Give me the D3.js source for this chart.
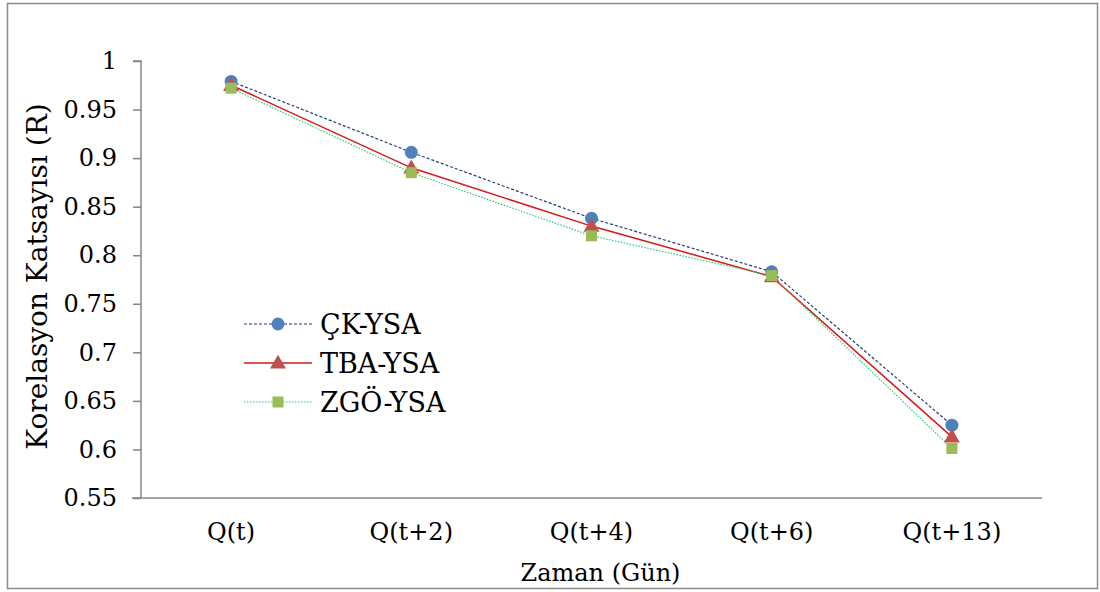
<!DOCTYPE html>
<html>
<head>
<meta charset="utf-8">
<script src="https://cdn.jsdelivr.net/npm/d3@7"></script>
<style>
  body { margin: 0; background: #fff; }
</style>
</head>
<body>
<div class="chart"></div>
<script>
var svgWidth = 1100;
var svgHeight = 592;
var serif = "'DejaVu Serif', 'Liberation Serif', serif";

// data
var categories = ["Q(t)", "Q(t+2)", "Q(t+4)", "Q(t+6)", "Q(t+13)"];
var ckYsa = [0.979, 0.906, 0.838, 0.783, 0.625];
var tbaYsa = [0.975, 0.890, 0.830, 0.778, 0.613];
var zgoYsa = [0.972, 0.885, 0.820, 0.779, 0.601];
var yTicks = [0.55, 0.6, 0.65, 0.7, 0.75, 0.8, 0.85, 0.9, 0.95, 1];

var seriesList = [
  { name: "ÇK-YSA", values: ckYsa, color: "#1f3d7a", dash: "3,2", width: 1.2, marker: "circle", fill: "#4f81bd" },
  { name: "TBA-YSA", values: tbaYsa, color: "#d7191c", dash: null, width: 1.5, marker: "triangle", fill: "#c0504d" },
  { name: "ZGÖ-YSA", values: zgoYsa, color: "#2ecc71", dash: "1.5,1.5", width: 1.2, marker: "square", fill: "#9bbb59" }
];

var margin = { left: 141, right: 58, top: 61, bottom: 94 };
var width = svgWidth - margin.left - margin.right;
var height = svgHeight - margin.top - margin.bottom;

var svg = d3.select(".chart")
  .append("svg")
  .attr("width", svgWidth)
  .attr("height", svgHeight);

// outer frame
svg.append("rect")
  .attr("x", 7.5).attr("y", 3.5)
  .attr("width", 1090).attr("height", 585)
  .attr("fill", "none")
  .attr("stroke", "#8c8c8c")
  .attr("stroke-width", 1.5);

var chartGroup = svg.append("g")
  .attr("transform", `translate(${margin.left}, ${margin.top})`);

var xScale = d3.scaleBand()
  .domain(categories)
  .range([0, width]);

var yScale = d3.scaleLinear()
  .domain([0.55, 1])
  .range([height, 0]);

// y axis
var leftAxis = d3.axisLeft(yScale)
  .tickValues(yTicks)
  .tickSize(8)
  .tickPadding(16)
  .tickFormat(d => d3.format("")(+d.toFixed(2)));

var yAxisG = chartGroup.append("g").call(leftAxis)
  .attr("font-family", serif).attr("font-size", 24);
yAxisG.select(".domain").attr("stroke", "#868686").attr("stroke-width", 1.5)
  .attr("d", `M-8,0H0V${height}`);
yAxisG.selectAll(".tick line").attr("stroke", "#868686").attr("stroke-width", 1.5);

// x axis
var bottomAxis = d3.axisBottom(xScale).tickSize(0).tickPadding(25);
var xAxisG = chartGroup.append("g")
  .attr("transform", `translate(0,${height})`)
  .call(bottomAxis)
  .attr("font-family", serif).attr("font-size", 24);
xAxisG.select(".domain").attr("stroke", "#868686").attr("stroke-width", 1.5)
  .attr("d", `M-9,0H${width}`);

// lines
var cx = (d, i) => xScale(categories[i]) + xScale.bandwidth() / 2;

seriesList.forEach(function (s) {
  var line = d3.line()
    .x((d, i) => cx(d, i))
    .y(d => yScale(d));

  chartGroup.append("path")
    .datum(s.values)
    .attr("d", line)
    .attr("fill", "none")
    .attr("stroke", s.color)
    .attr("stroke-width", s.width)
    .attr("stroke-dasharray", s.dash);
});

function drawMarker(g, type, x, y, fill) {
  if (type === "circle") {
    g.append("circle").attr("cx", x).attr("cy", y).attr("r", 6.5).attr("fill", fill);
  } else if (type === "triangle") {
    g.append("path")
      .attr("d", d3.symbol().type(d3.symbolTriangle).size(110)())
      .attr("transform", `translate(${x},${y + 1})`)
      .attr("fill", fill);
  } else {
    g.append("rect").attr("x", x - 5.5).attr("y", y - 5.5)
      .attr("width", 11).attr("height", 11).attr("fill", fill);
  }
}

seriesList.forEach(function (s) {
  var g = chartGroup.append("g");
  s.values.forEach(function (v, i) {
    drawMarker(g, s.marker, cx(v, i), yScale(v), s.fill);
  });
});

// legend
var legend = svg.append("g").attr("transform", "translate(244, 324)");
seriesList.forEach(function (s, i) {
  var row = legend.append("g").attr("transform", `translate(0, ${i * 39})`);
  row.append("line")
    .attr("x1", 0).attr("x2", 68)
    .attr("stroke", s.color)
    .attr("stroke-width", s.width)
    .attr("stroke-dasharray", s.dash);
  drawMarker(row, s.marker, 34, 0, s.fill);
  row.append("text")
    .attr("x", 76).attr("y", 0).attr("dy", "0.36em")
    .attr("font-family", serif)
    .attr("font-size", 27)
    .text(s.name);
});

// axis labels
chartGroup.append("text")
  .attr("transform", "rotate(-90)")
  .attr("x", -height / 2 + 3)
  .attr("y", -94)
  .attr("text-anchor", "middle")
  .attr("font-family", serif)
  .attr("font-size", 28)
  .text("Korelasyon Katsayısı (R)");

chartGroup.append("text")
  .attr("x", width / 2 + 9)
  .attr("y", height + 83)
  .attr("text-anchor", "middle")
  .attr("font-family", serif)
  .attr("font-size", 24)
  .text("Zaman (Gün)");
</script>
</body>
</html>
